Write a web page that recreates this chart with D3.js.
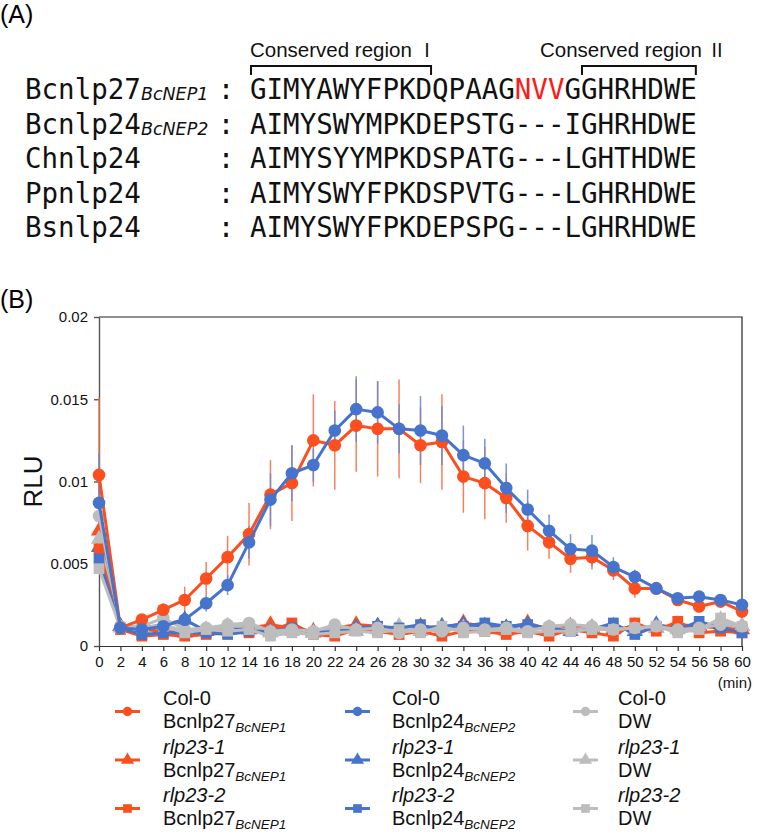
<!DOCTYPE html>
<html><head><meta charset="utf-8">
<script src="https://cdn.jsdelivr.net/npm/d3@7"></script>
<style>body{margin:0;background:#fff}svg{display:block}</style>
</head><body>
<svg id="c" width="757" height="835"></svg>
<script>
// ---------- Data ----------
const seqNames = ["Bcnlp27", "Bcnlp24", "Chnlp24", "Ppnlp24", "Bsnlp24"];
const seqSubs = ["BcNEP1", "BcNEP2", "", "", ""];
const sequences = [
  "GIMYAWYFPKDQPAAGNVVGGHRHDWE",
  "AIMYSWYMPKDEPSTG---IGHRHDWE",
  "AIMYSYYMPKDSPATG---LGHTHDWE",
  "AIMYSWYFPKDSPVTG---LGHRHDWE",
  "AIMYSWYFPKDEPSPG---LGHRHDWE"
];
const regionLabels = ["Conserved region ", "Conserved region "];
const regionNumerals = ["\u2160", "\u2161"];
const regionChars = [[0, 11], [20, 27]];
const redChars = [16, 19];

const times = [0,2,4,6,8,10,12,14,16,18,20,22,24,26,28,30,32,34,36,38,40,42,44,46,48,50,52,54,56,58,60];
const yTickValues = [0, 0.005, 0.01, 0.015, 0.02];
const yTickLabels = ["0", "0.005", "0.01", "0.015", "0.02"];

const col0_nep1 = [0.0104,0.0011,0.0016,0.0022,0.0028,0.0041,0.0054,0.0068,0.0092,0.0099,0.0125,0.0122,0.0134,0.0132,0.0132,0.0122,0.0124,0.0103,0.0099,0.0090,0.0073,0.0063,0.0053,0.0054,0.0046,0.0035,0.0035,0.0028,0.0024,0.0027,0.0021];
const col0_nep1_err = [0.0047,0.0003,0.0003,0.0004,0.0008,0.0010,0.0013,0.0019,0.0021,0.0023,0.0028,0.0027,0.0028,0.0029,0.0030,0.0023,0.0029,0.0022,0.0022,0.0015,0.0015,0.0010,0.00085,0.00075,0.0006,0.00057,0.0004,0.0003,0.0003,0.0003,0.0003];
const col0_nep2 = [0.0087,0.0011,0.0010,0.0012,0.0016,0.0026,0.0037,0.0063,0.0089,0.0105,0.0110,0.0131,0.0144,0.0142,0.0132,0.0131,0.0128,0.0116,0.0111,0.0096,0.0083,0.0070,0.0059,0.0058,0.0048,0.0042,0.0035,0.0029,0.0030,0.0028,0.0025];
const col0_nep2_err = [0.0030,0.0003,0.0002,0.0003,0.0004,0.0005,0.0006,0.0010,0.0016,0.0017,0.0010,0.0012,0.0020,0.0019,0.0015,0.0021,0.0018,0.0018,0.0015,0.0015,0.0012,0.0010,0.0009,0.00095,0.0006,0.00045,0.0004,0.0003,0.0003,0.0003,0.0003];
const rlp1_nep1 = [0.0070,0.0012,0.0010,0.0009,0.0008,0.0009,0.0010,0.0011,0.0013,0.0011,0.0009,0.0011,0.0013,0.0012,0.0010,0.0012,0.0011,0.0014,0.0012,0.0011,0.0014,0.0010,0.0012,0.0011,0.0010,0.0012,0.0011,0.0013,0.0012,0.0011,0.0010];
const rlp2_nep1 = [0.0059,0.0010,0.0006,0.0007,0.0006,0.0007,0.0008,0.0008,0.0009,0.0014,0.0007,0.0006,0.0010,0.0009,0.0007,0.0009,0.0006,0.0009,0.0009,0.0007,0.0009,0.0006,0.0010,0.0008,0.0006,0.0014,0.0009,0.0015,0.0008,0.0009,0.0008];
const rlp1_nep2 = [0.0060,0.0012,0.0011,0.0013,0.0016,0.0009,0.0011,0.0010,0.0009,0.0010,0.0008,0.0010,0.0011,0.0012,0.0010,0.0011,0.0012,0.0013,0.0012,0.0011,0.0013,0.0010,0.0009,0.0011,0.0012,0.0009,0.0013,0.0011,0.0012,0.0013,0.0012];
const rlp2_nep2 = [0.0053,0.0011,0.0007,0.0008,0.0008,0.0008,0.0007,0.0009,0.0009,0.0011,0.0008,0.0009,0.0010,0.0012,0.0011,0.0013,0.0009,0.0012,0.0014,0.0012,0.0013,0.0011,0.0009,0.0010,0.0014,0.0007,0.0012,0.0010,0.0015,0.0011,0.0008];
const col0_dw = [0.0079,0.0012,0.0012,0.0017,0.0010,0.0011,0.0013,0.0014,0.0009,0.0010,0.0009,0.0013,0.0010,0.0011,0.0008,0.0010,0.0009,0.0011,0.0010,0.0011,0.0009,0.0012,0.0013,0.0012,0.0010,0.0011,0.0012,0.0010,0.0011,0.0013,0.0012];
const rlp1_dw = [0.0065,0.0011,0.0011,0.0013,0.0009,0.0010,0.0012,0.0012,0.0008,0.0009,0.0008,0.0011,0.0009,0.0010,0.0012,0.0009,0.0010,0.0011,0.0010,0.0009,0.0010,0.0011,0.0010,0.0011,0.0011,0.0010,0.0011,0.0010,0.0011,0.0016,0.0012];
const rlp2_dw = [0.0047,0.0011,0.0011,0.0012,0.0008,0.0010,0.0009,0.0010,0.0006,0.0008,0.0007,0.0008,0.0009,0.0008,0.0010,0.0008,0.0012,0.0008,0.0009,0.0010,0.0008,0.0009,0.0009,0.0010,0.0010,0.0011,0.0012,0.0008,0.0010,0.0017,0.0012];

const genotypes = ["Col-0", "rlp23-1", "rlp23-2"];
const treatments = ["Bcnlp27", "Bcnlp24", "DW"];
const treatmentSubs = ["BcNEP1", "BcNEP2", ""];
const colors = ["#fb4f1f", "#4673cc", "#bdbdbd"];
const errColors = ["#f7744e", "#6b8ad2", "#c8c8c8"];

const seriesValues = [
  [col0_nep1, rlp1_nep1, rlp2_nep1],
  [col0_nep2, rlp1_nep2, rlp2_nep2],
  [col0_dw, rlp1_dw, rlp2_dw]
];
const seriesErrors = [[col0_nep1_err, null, null],[col0_nep2_err, null, null],[null,null,null]];

// ---------- Drawing ----------
const svg = d3.select("#c");
const SANS = "'Liberation Sans', Arial, Helvetica, sans-serif";
const MONO = "'DejaVu Sans Mono', monospace";

// Panel A
svg.append("text").attr("x", 0).attr("y", 23).attr("font-family", SANS).attr("font-size", 25).text("(A)");
const seqX = 250, charW = 16.55;
const rowY = [99, 133.5, 168, 202.5, 237];
const gA = svg.append("g");
seqNames.forEach((n, i) => {
  const t = gA.append("text").attr("x", 25).attr("y", rowY[i]).attr("font-family", MONO).attr("font-size", 27.5).attr("fill", "#111");
  t.append("tspan").text(n);
  if (seqSubs[i]) t.append("tspan").attr("dy", 1).attr("font-family", "'DejaVu Sans', sans-serif").attr("font-style", "italic").attr("font-size", 17.5).text(seqSubs[i]);
  gA.append("text").attr("x", 226).attr("y", rowY[i]).attr("text-anchor", "middle").attr("font-family", MONO).attr("font-size", 27.5).attr("fill", "#111").text(":");
  const s = sequences[i];
  const st = gA.append("text").attr("x", seqX).attr("y", rowY[i]).attr("font-family", MONO).attr("font-size", 27.5).attr("fill", "#111")
    .attr("textLength", s.length * charW).attr("lengthAdjust", "spacing");
  if (i === 0) {
    st.append("tspan").text(s.slice(0, redChars[0]));
    st.append("tspan").attr("fill", "#ff1a1a").text(s.slice(redChars[0], redChars[1]));
    st.append("tspan").text(s.slice(redChars[1]));
  } else st.text(s);
});
regionChars.forEach((rc, i) => {
  const x0 = seqX + rc[0] * charW + 1, x1 = seqX + rc[1] * charW - 1;
  gA.append("path").attr("d", `M${x0},75V66H${x1}V75`).attr("fill", "none").attr("stroke", "#111").attr("stroke-width", 2);
});
[250, 540].forEach((lx, i) => {
  const t = gA.append("text").attr("x", lx).attr("y", 57).attr("font-family", SANS).attr("font-size", 20.5).attr("fill", "#111");
  t.append("tspan").text(regionLabels[i]);
  t.append("tspan").attr("font-family", "'Noto Sans CJK JP', 'DejaVu Sans', sans-serif").attr("font-size", 19).text(regionNumerals[i]);
});

// Panel B
svg.append("text").attr("x", 0).attr("y", 308).attr("font-family", SANS).attr("font-size", 25).text("(B)");
const x = d3.scaleLinear().domain([0, 60]).range([99, 742]);
const y = d3.scaleLinear().domain([0, 0.02]).range([646, 317]);

// frame
svg.append("path").attr("d", `M${x(0)},${y(0.02)}H${x(60)}V${y(0)}`).attr("fill", "none").attr("stroke", "#222").attr("stroke-width", 1.2);

const xAxis = svg.append("g").attr("transform", `translate(0,${y(0)})`)
  .call(d3.axisBottom(x).tickValues(times).tickSize(5).tickSizeOuter(0).tickPadding(5));
xAxis.selectAll("text").attr("font-family", SANS).attr("font-size", 15).attr("fill", "#111");
xAxis.selectAll("line,path").attr("stroke", "#333").attr("stroke-width", 1.2);

const yAxis = svg.append("g").attr("transform", `translate(${x(0)},0)`)
  .call(d3.axisLeft(y).tickValues(yTickValues).tickFormat((d, i) => yTickLabels[i]).tickSize(5).tickSizeOuter(0).tickPadding(6));
yAxis.selectAll("text").attr("font-family", SANS).attr("font-size", 15).attr("fill", "#111");
yAxis.selectAll("line,path").attr("stroke", "#555").attr("stroke-width", 1.4);

svg.append("text").attr("transform", `translate(42,${y(0.01)}) rotate(-90)`).attr("text-anchor", "middle")
  .attr("font-family", SANS).attr("font-size", 26).attr("fill", "#111").text("RLU");
svg.append("text").attr("x", 752).attr("y", 688).attr("text-anchor", "end").attr("font-family", SANS).attr("font-size", 15).attr("fill", "#111").text("(min)");

const shapes = [d3.symbolCircle, d3.symbolTriangle, d3.symbolSquare];
const shapeSize = [125, 115, 115];
const plot = svg.append("g");

// error bars first
seriesValues.forEach((grp, ti) => grp.forEach((vals, gi) => {
  const errs = seriesErrors[ti][gi];
  if (!errs) return;
  plot.append("g").selectAll("line").data(times).join("line")
    .attr("x1", d => x(d)).attr("x2", d => x(d))
    .attr("y1", (d, k) => y(vals[k] + errs[k])).attr("y2", (d, k) => y(Math.max(0, vals[k] - errs[k])))
    .attr("stroke", errColors[ti]).attr("stroke-width", 1.5).attr("opacity", 0.9);
}));

const line = d3.line().x((d) => x(d[0])).y(d => y(d[1]));
const order = [];
[1, 2].forEach(gi => [0, 1, 2].forEach(ti => order.push([ti, gi])));
[2, 0, 1].forEach(ti => order.push([ti, 0]));
order.forEach(([ti, gi]) => {
  const vals = seriesValues[ti][gi];
  const pts = times.map((t, k) => [t, vals[k]]);
  const g = plot.append("g");
  g.append("path").attr("d", line(pts)).attr("fill", "none").attr("stroke", colors[ti]).attr("stroke-width", 3).attr("stroke-linejoin", "round");
  g.selectAll("path.m").data(pts).join("path").attr("class", "m")
    .attr("transform", d => `translate(${x(d[0])},${y(d[1])})`)
    .attr("d", d3.symbol().type(shapes[gi]).size(shapeSize[gi])).attr("fill", colors[ti]);
});

// Legend
const legX = [115, 345, 573];
const legTextX = [163, 392, 618];
const legRowY = [705, 753.5, 802];
treatments.forEach((tr, ti) => genotypes.forEach((gn, gi) => {
  const my = legRowY[gi] + 6.5;
  svg.append("line").attr("x1", legX[ti]).attr("x2", legX[ti] + 25).attr("y1", my).attr("y2", my)
    .attr("stroke", colors[ti]).attr("stroke-width", 3);
  svg.append("path").attr("transform", `translate(${legX[ti] + 12.5},${my})`)
    .attr("d", d3.symbol().type(shapes[gi]).size(gi === 0 ? 70 : 75)).attr("fill", colors[ti]);
  svg.append("text").attr("x", legTextX[ti]).attr("y", legRowY[gi]).attr("font-family", SANS).attr("font-size", 20)
    .attr("font-style", gi === 0 ? "normal" : "italic").attr("fill", "#111").text(gn);
  const t2 = svg.append("text").attr("x", legTextX[ti]).attr("y", legRowY[gi] + 23).attr("font-family", SANS).attr("font-size", 20).attr("fill", "#111");
  t2.append("tspan").text(tr);
  if (treatmentSubs[ti]) t2.append("tspan").attr("dy", 4).attr("font-style", "italic").attr("font-size", 13.5).text(treatmentSubs[ti]);
}));
</script>
</body></html>
